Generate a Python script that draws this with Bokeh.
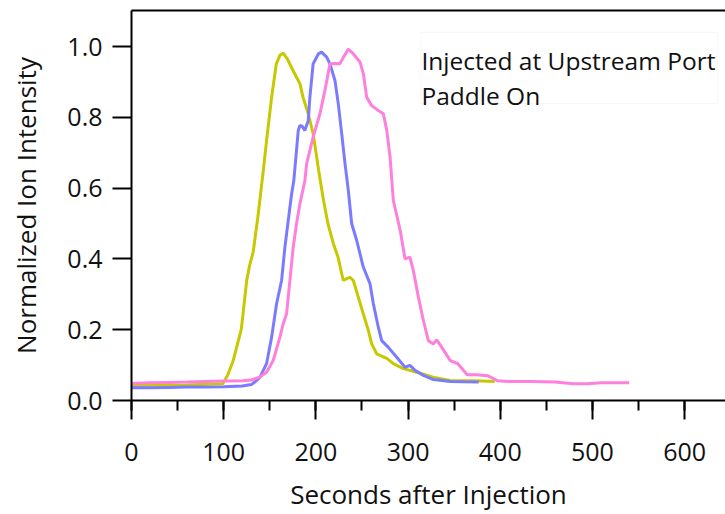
from bokeh.plotting import figure
from bokeh.models import Range1d, SingleIntervalTicker, LinearAxis, Label, BoxAnnotation, CustomJSTickFormatter
from bokeh.embed import file_html
from bokeh.resources import INLINE

# ---- data ----
yellow_t = [0, 20, 40, 60, 80, 99, 104, 110, 115, 119, 121, 125, 128, 132, 137, 143, 146.5, 152, 157,
            161, 164.5, 169, 173.7, 179, 182.7, 186, 191.7, 197, 203, 208, 213, 219, 224, 229.7, 234,
            237, 240.6, 246, 251.4, 256.9, 260.5, 266, 276.9, 284, 294.9, 309.4, 327, 345.6, 365, 380, 394]
yellow_y = [0.042, 0.043, 0.043, 0.044, 0.046, 0.047, 0.07, 0.11, 0.16, 0.2, 0.245, 0.34, 0.38, 0.42,
            0.517, 0.65, 0.734, 0.857, 0.95, 0.975, 0.981, 0.965, 0.94, 0.913, 0.895, 0.857, 0.81, 0.754,
            0.65, 0.57, 0.5, 0.443, 0.405, 0.339, 0.345, 0.348, 0.339, 0.292, 0.245, 0.198, 0.16, 0.132,
            0.119, 0.104, 0.09, 0.08, 0.066, 0.0565, 0.056, 0.055, 0.054]

blue_t = [0, 20, 40, 60, 80, 100, 120, 130, 135, 139.4, 146.5, 152, 157.4, 162.8, 166.4, 170, 173.7,
          176, 180.9, 182.7, 185, 188, 191.7, 193.5, 197, 202.6, 206.2, 211.7, 215.3, 220.7, 224.3, 228,
          231.6, 235.2, 238.8, 244.3, 251.4, 258.7, 262.3, 267.7, 271.4, 278.6, 287.7, 296.7, 302, 307.6,
          316.6, 327.5, 345.6, 360, 376.6]
blue_y = [0.036, 0.036, 0.037, 0.038, 0.038, 0.039, 0.041, 0.045, 0.055, 0.066, 0.104, 0.179, 0.274,
          0.339, 0.433, 0.508, 0.584, 0.62, 0.763, 0.777, 0.775, 0.763, 0.79, 0.857, 0.951, 0.979, 0.984,
          0.97, 0.951, 0.904, 0.838, 0.754, 0.669, 0.593, 0.5, 0.452, 0.377, 0.33, 0.274, 0.207, 0.169,
          0.15, 0.122, 0.094, 0.099, 0.085, 0.071, 0.059, 0.054, 0.053, 0.052]

pink_t = [0, 20, 40, 60, 80, 100, 120, 130, 139, 146.5, 153.7, 161, 164.6, 168.2, 171.8, 175.4, 179,
          182.7, 188, 190, 197, 204.4, 209.8, 215.3, 220, 226, 230, 235.2, 240.6, 247.9, 251.5, 255.1,
          260.5, 267.7, 273.2, 276.9, 280.5, 284, 291.5, 296.7, 302, 305.7, 311.2, 316.6, 322, 327.5,
          331, 336.6, 345.6, 354, 364, 374, 386.6, 396.7, 409, 434, 459, 479.5, 494, 509.6, 539.8]
pink_y = [0.048, 0.05, 0.051, 0.052, 0.054, 0.055, 0.056, 0.058, 0.066, 0.08, 0.113, 0.179, 0.217, 0.245,
          0.339, 0.433, 0.499, 0.556, 0.62, 0.669, 0.744, 0.81, 0.876, 0.951, 0.952, 0.951, 0.97, 0.993,
          0.979, 0.956, 0.923, 0.857, 0.833, 0.819, 0.81, 0.763, 0.687, 0.565, 0.48, 0.4, 0.405, 0.367,
          0.292, 0.226, 0.169, 0.16, 0.171, 0.15, 0.113, 0.104, 0.073, 0.073, 0.07, 0.056, 0.054, 0.054,
          0.052, 0.047, 0.047, 0.05, 0.05]

x_ticks_interval = 100
y_ticks_interval = 0.2
x_label = "Seconds after Injection"
y_label = "Normalized Ion Intensity"
note_lines = ["Injected at Upstream Port", "Paddle On"]

FONT = "Open Sans"

p = figure(width=725, height=514, output_backend="svg", toolbar_location=None,
           x_range=Range1d(0, 644.3), y_range=Range1d(0, 1.1017),
           min_border_left=131, min_border_right=0, min_border_top=10, min_border_bottom=114,
           x_axis_label=x_label, y_axis_label=y_label)
p.outline_line_color = None
p.xgrid.visible = False
p.ygrid.visible = False
p.background_fill_color = "white"
p.border_fill_color = "white"

xa = p.xaxis[0]
xa.ticker = SingleIntervalTicker(interval=x_ticks_interval, num_minor_ticks=2)
ya = p.yaxis[0]
ya.ticker = SingleIntervalTicker(interval=y_ticks_interval, num_minor_ticks=0)
ya.formatter = CustomJSTickFormatter(code="return tick.toFixed(1);")

for ax in (xa, ya):
    ax.axis_line_width = 2
    ax.axis_line_color = "black"
    ax.major_tick_line_width = 2
    ax.major_tick_line_color = "black"
    ax.minor_tick_line_width = 2
    ax.minor_tick_line_color = "black"
    ax.major_tick_in = 0
    ax.major_tick_out = 19
    ax.minor_tick_in = 0
    ax.major_label_text_font = FONT
    ax.major_label_text_font_size = "25px"
    ax.major_label_text_color = "#111111"
    ax.axis_label_text_font = FONT
    ax.axis_label_text_font_size = "26px"
    ax.axis_label_text_font_style = "normal"
    ax.axis_label_text_color = "#111111"
xa.minor_tick_out = 10
ya.minor_tick_out = 0
xa.major_label_standoff = 23
ya.major_label_standoff = 10
xa.axis_label_standoff = 12
ya.axis_label_standoff = 20

top = LinearAxis(axis_line_width=2, axis_line_color="black", major_tick_out=0, major_tick_in=0,
                 minor_tick_out=0, minor_tick_in=0, major_label_text_font_size="0px",
                 major_label_text_alpha=0)
p.add_layout(top, "above")

p.line(yellow_t, yellow_y, line_color="#c8c800", line_width=3)
p.line(blue_t, blue_y, line_color="#7b7bff", line_width=3)
p.line(pink_t, pink_y, line_color="#ff7fdc", line_width=3)

box = BoxAnnotation(left=314, right=635.5, top=1.04, bottom=0.839, fill_color="white", fill_alpha=1,
                    line_color="#e4e4e4", line_width=1, level="overlay")
p.add_layout(box)
p.add_layout(Label(x=314.5, y=0.96, text=note_lines[0], text_font=FONT, text_font_size="24.5px",
                   text_color="#111111", text_baseline="alphabetic", level="overlay"))
p.add_layout(Label(x=314.5, y=0.862, text=note_lines[1], text_font=FONT, text_font_size="24.5px",
                   text_color="#111111", text_baseline="alphabetic", level="overlay"))

open("out.html", "w").write(file_html(p, INLINE))
